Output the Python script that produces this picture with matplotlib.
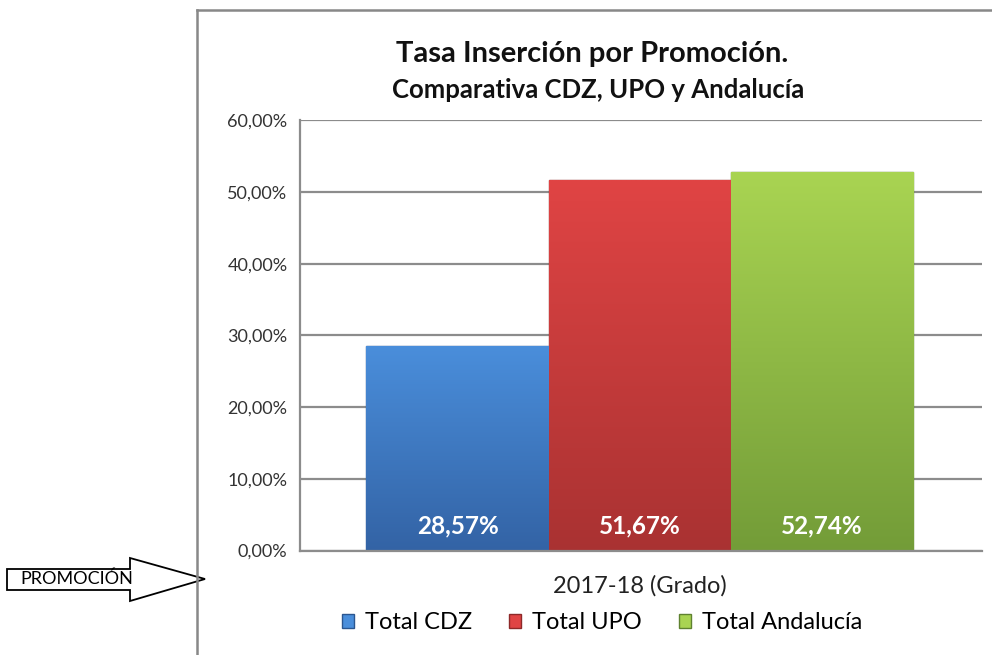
"""Tasa de inserción por promoción: CDZ vs UPO vs Andalucía (bar chart)."""
import numpy as np
import matplotlib
matplotlib.use("Agg")
import matplotlib.pyplot as plt
from matplotlib.colors import LinearSegmentedColormap
from matplotlib.patches import Patch, Polygon
from matplotlib.lines import Line2D

plt.rcParams["font.family"] = ["Lato", "DejaVu Sans"]

# data
category = "2017-18 (Grado)"
series = ["Total CDZ", "Total UPO", "Total Andalucía"]
values = [28.57, 51.67, 52.74]
y_ticks = [0, 10, 20, 30, 40, 50, 60]

top_colors = ["#4A8EDB", "#E04444", "#A9D452"]
bottom_colors = ["#3363A5", "#A93232", "#739C38"]
edge_colors = ["#2B5690", "#8E2929", "#5F8230"]

fig = plt.figure(figsize=(9.92, 6.55), dpi=100)
ax = fig.add_axes([0.3024, 0.1595, 0.6875, 0.657])

width = 0.267
offsets = (np.arange(len(series)) - 1) * width
bars = ax.bar(offsets, values, width=width, color=top_colors, edgecolor=edge_colors,
              linewidth=1.0, zorder=2)

# vertical gradient inside each bar
grad = np.linspace(0, 1, 256).reshape(-1, 1)
for b, c0, c1 in zip(bars, top_colors, bottom_colors):
    cmap = LinearSegmentedColormap.from_list("g", [c1, c0])
    x0, y0 = b.get_x(), b.get_y()
    im = ax.imshow(grad, cmap=cmap, origin="lower", aspect="auto",
                   extent=(x0, x0 + b.get_width(), y0, y0 + b.get_height()), zorder=2.5)
    im.set_clip_path(b)

for x, v in zip(offsets, values):
    ax.text(x, 3.5, f"{v:.2f}%".replace(".", ","), ha="center", va="center",
            color="white", fontsize=17.5, fontweight="bold", zorder=4)

ax.set_xlim(-0.498, 0.502)
ax.set_ylim(0, 60)
ax.set_yticks(y_ticks)
ax.set_yticklabels([f"{t:.2f}%".replace(".", ",") for t in y_ticks], fontsize=13, color="#333333")
ax.set_xticks([0])
ax.set_xticklabels([category], fontsize=17, color="#222222")
ax.tick_params(axis="y", length=0, pad=9)
ax.tick_params(axis="x", length=0, pad=18)
ax.yaxis.grid(True, color="#8c8c8c", linewidth=1.6, zorder=0)
ax.set_axisbelow(True)
for s in ["top", "right"]:
    ax.spines[s].set_visible(False)
for s in ["left", "bottom"]:
    ax.spines[s].set_color("#8c8c8c")
    ax.spines[s].set_linewidth(1.6)

# titles
fig.text(0.597, 0.918, "Tasa Inserción por Promoción.", ha="center", va="center",
         fontsize=21, fontweight="bold", color="#111111")
fig.text(0.603, 0.862, "Comparativa CDZ, UPO y Andalucía", ha="center", va="center",
         fontsize=18.5, fontweight="bold", color="#111111")

# legend
handles = [Patch(facecolor=c, edgecolor=e) for c, e in zip(top_colors, edge_colors)]
fig.legend(handles, series, loc="center", bbox_to_anchor=(0.607, 0.049), ncol=3,
           frameon=False, fontsize=17, handlelength=0.5, handleheight=0.5,
           handletextpad=0.45, columnspacing=1.6)

# chart frame (left and top edges)
fig.add_artist(Line2D([197 / 992, 197 / 992], [0, 1 - 10 / 655], transform=fig.transFigure,
                      color="#888888", linewidth=1.8))
fig.add_artist(Line2D([197 / 992, 1], [1 - 10 / 655, 1 - 10 / 655], transform=fig.transFigure,
                      color="#888888", linewidth=1.8))

# block arrow with label
W, H = 992, 655
pts = [(7, 569), (130, 569), (130, 558), (205, 579), (130, 601), (130, 590), (7, 590)]
arrow = Polygon([(x / W, 1 - y / H) for x, y in pts], closed=True, transform=fig.transFigure,
                facecolor="white", edgecolor="black", linewidth=1.3)
fig.add_artist(arrow)
fig.text(20 / W, 1 - 579 / H, "PROMOCIÓN", ha="left", va="center", fontsize=13, color="black")

fig.savefig("out.png", dpi=100)
